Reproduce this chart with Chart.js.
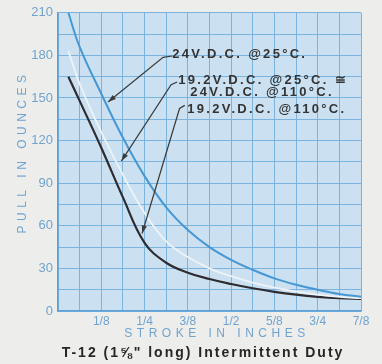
<!DOCTYPE html>
<html>
<head>
<meta charset="utf-8">
<script src="https://cdn.jsdelivr.net/npm/chart.js@4"></script>
<style>
  html, body { margin: 0; padding: 0; background: #ededeb; }
  #wrap { width: 382px; height: 364px; position: relative; }
</style>
</head>
<body>
<div id="wrap"><canvas id="pullChart"></canvas></div>
<script>
// stroke positions (inches) and pull values (ounces)
const strokeIn = [0.03, 0.0625, 0.125, 0.1875, 0.25, 0.3125, 0.375, 0.4375, 0.5, 0.5625, 0.625, 0.6875, 0.75, 0.8125, 0.875];
const pull24v25c = [210, 186, 153, 122, 95, 73, 57, 45, 36, 29, 23, 18.5, 15, 12, 10];
const pull192v25c = [183, 160, 126, 96, 69, 49, 38, 30, 24.5, 20, 16.5, 13.8, 11.6, 10, 9];
const pull192v110c = [165, 148, 115, 80, 48, 34, 27, 22.5, 19, 16, 13.5, 11.5, 10, 9, 8.5];

// axis tick labels
const strokeLabels = ["", "1/8", "1/4", "3/8", "1/2", "5/8", "3/4", "7/8"];
const pullLabels = ["0", "30", "60", "90", "120", "150", "180", "210"];

const BLUE_TXT = "#6fa3d1";

const toPoints = (ys) => strokeIn.map((x, i) => ({ x: x, y: ys[i] }));

// curve notes, in data units (inches, ounces)
const notes = [
  { lines: ["24V.D.C. @25\u00B0C."], at: [0.33, 180.5], dx: [0],
    leader: [[0.33, 179.6], [0.3035, 178.6], [0.1445, 147.2]] },
  { lines: ["19.2V.D.C. @25\u00B0C. \u2245", "24V.D.C. @110\u00B0C."], at: [0.347, 162.6], dx: [0, 12],
    leader: [[0.344, 161.3], [0.3266, 159.4], [0.183, 105.6]] },
  { lines: ["19.2V.D.C. @110\u00B0C."], at: [0.373, 141.7], dx: [0],
    leader: [[0.366, 144.8], [0.351, 142.6], [0.2428, 54.6]] },
];

function arrowHead(ctx, x1, y1, x2, y2) {
  const a = Math.atan2(y2 - y1, x2 - x1);
  const len = 8, w = 2.6;
  ctx.beginPath();
  ctx.moveTo(x2, y2);
  ctx.lineTo(x2 - len * Math.cos(a) + w * Math.sin(a), y2 - len * Math.sin(a) - w * Math.cos(a));
  ctx.lineTo(x2 - len * Math.cos(a) - w * Math.sin(a), y2 - len * Math.sin(a) + w * Math.cos(a));
  ctx.closePath();
  ctx.fill();
}

const paperPlugin = {
  id: "paper",
  beforeDraw(chart) {
    const { ctx, chartArea: a } = chart;
    ctx.save();
    ctx.fillStyle = "#ededeb";
    ctx.fillRect(0, 0, chart.width, chart.height);
    ctx.fillStyle = "#cbe0f0";
    ctx.fillRect(a.left, a.top, a.right - a.left, a.bottom - a.top);
    ctx.restore();
  },
  afterDraw(chart) {
    const { ctx, scales } = chart;
    const px = (p) => [scales.x.getPixelForValue(p[0]), scales.y.getPixelForValue(p[1])];
    ctx.save();

    // y axis title
    ctx.save();
    ctx.translate(23, 152);
    ctx.rotate(-Math.PI / 2);
    ctx.font = "12px 'Liberation Sans', Arial, sans-serif";
    ctx.letterSpacing = "4.5px";
    ctx.fillStyle = BLUE_TXT;
    ctx.textAlign = "center";
    ctx.textBaseline = "middle";
    ctx.fillText("PULL IN OUNCES", 0, 0);
    ctx.restore();

    // x axis title
    ctx.font = "12px 'Liberation Sans', Arial, sans-serif";
    ctx.letterSpacing = "4.5px";
    ctx.fillStyle = BLUE_TXT;
    ctx.textAlign = "center";
    ctx.textBaseline = "middle";
    ctx.fillText("STROKE IN INCHES", 217, 334);

    // caption
    ctx.font = "bold 14px 'Liberation Sans', Arial, sans-serif";
    ctx.letterSpacing = "2px";
    ctx.fillStyle = "#262626";
    ctx.fillText("T-12 (1\u215D\" long) Intermittent Duty", 203, 353);

    // notes with leaders
    ctx.strokeStyle = "#3a3a3a";
    ctx.fillStyle = "#3a3a3a";
    ctx.lineWidth = 1.2;
    notes.forEach((n) => {
      const pts = n.leader.map(px);
      ctx.beginPath();
      ctx.moveTo(pts[0][0], pts[0][1]);
      for (let i = 1; i < pts.length; i++) ctx.lineTo(pts[i][0], pts[i][1]);
      ctx.stroke();
      const k = pts.length - 1;
      arrowHead(ctx, pts[k - 1][0], pts[k - 1][1], pts[k][0], pts[k][1]);

      const [tx, ty] = px(n.at);
      ctx.font = "bold 13px 'Liberation Sans', Arial, sans-serif";
      ctx.letterSpacing = "2.3px";
      ctx.fillStyle = "#333333";
      ctx.textAlign = "left";
      ctx.textBaseline = "middle";
      n.lines.forEach((t, i) => ctx.fillText(t, tx + n.dx[i], ty + i * 12.5));
      ctx.fillStyle = "#3a3a3a";
    });
    ctx.restore();
  },
};

const config = {
  type: "line",
  data: {
    datasets: [
      { label: "24V.D.C. @25\u00B0C.", data: toPoints(pull24v25c), borderColor: "#4697d5", borderWidth: 2 },
      { label: "19.2V.D.C. @25\u00B0C. \u2245 24V.D.C. @110\u00B0C.", data: toPoints(pull192v25c), borderColor: "#eef3f7", borderWidth: 1.8 },
      { label: "19.2V.D.C. @110\u00B0C.", data: toPoints(pull192v110c), borderColor: "#2e2c30", borderWidth: 2.2 },
    ],
  },
  options: {
    animation: false,
    responsive: true,
    maintainAspectRatio: false,
    layout: { padding: { top: 10, right: 21, left: 0, bottom: 0 } },
    elements: {
      point: { radius: 0 },
      line: { tension: 0.4, fill: false },
    },
    plugins: { legend: { display: false }, tooltip: { enabled: false } },
    scales: {
      x: {
        type: "linear",
        min: 0,
        max: 0.875,
        afterFit: (s) => { s.height = 53; },
        ticks: {
          stepSize: 0.0625,
          autoSkip: false,
          maxRotation: 0,
          padding: 3,
          color: BLUE_TXT,
          font: { family: "'Liberation Sans', Arial, sans-serif", size: 12 },
          callback: (v) => {
            const n = Math.round(v * 16);
            return n % 2 ? "" : strokeLabels[n / 2];
          },
        },
        grid: { color: "#7ab3de", lineWidth: 1, drawTicks: false },
        border: { color: "#5d9fd6", width: 1.5 },
      },
      y: {
        min: 0,
        max: 210,
        afterFit: (s) => { s.width = 58; },
        ticks: {
          stepSize: 15,
          padding: 5,
          color: BLUE_TXT,
          font: { family: "'Liberation Sans', Arial, sans-serif", size: 13 },
          callback: (v) => (v % 30 === 0 ? pullLabels[v / 30] : ""),
        },
        grid: { color: "#7ab3de", lineWidth: 1, drawTicks: false },
        border: { color: "#5d9fd6", width: 1.5 },
      },
    },
  },
  plugins: [paperPlugin],
};

const pullChart = new Chart(document.getElementById("pullChart"), config);
</script>
</body>
</html>
